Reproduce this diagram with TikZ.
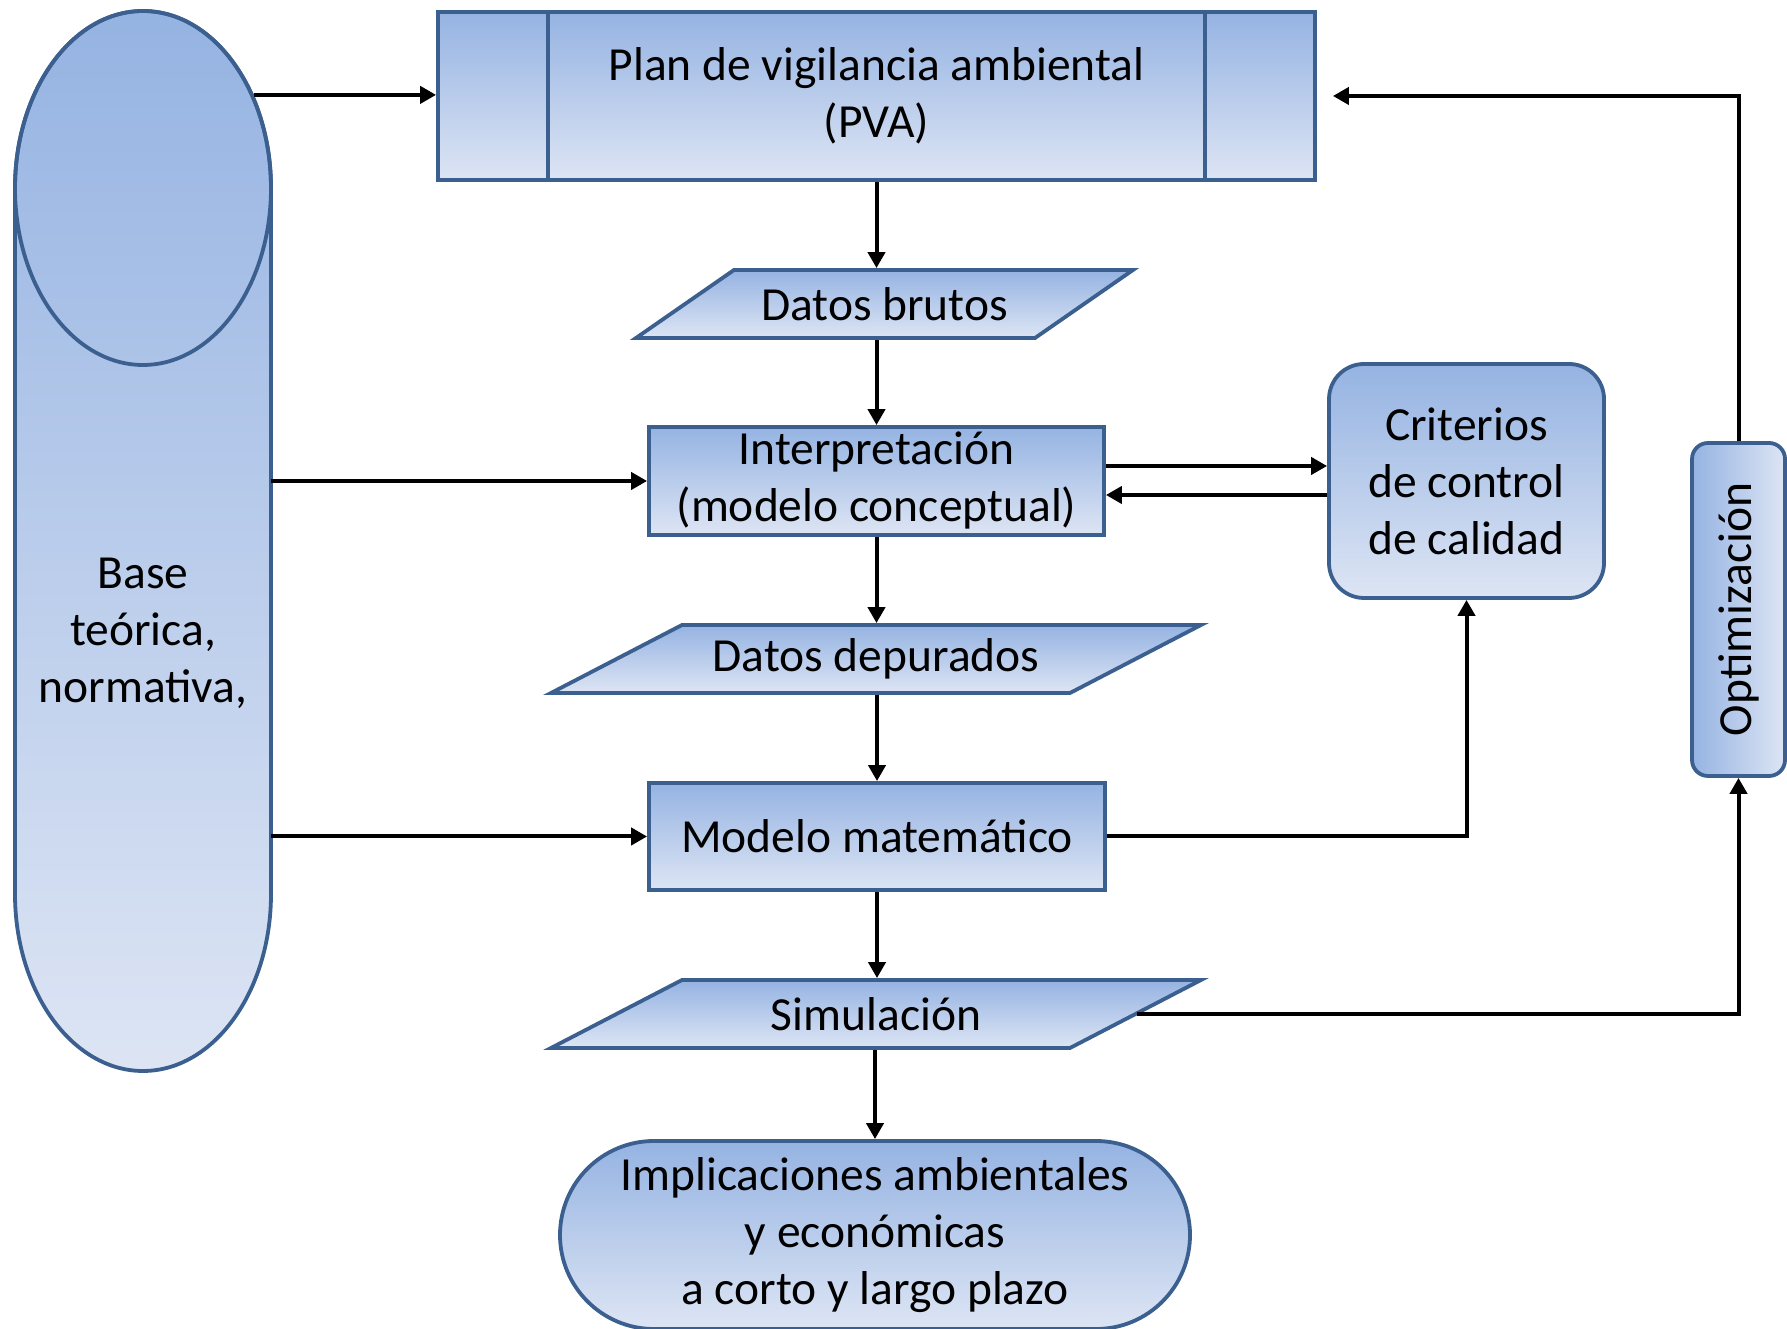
\documentclass[tikz,border=0pt]{standalone}
\usepackage{fontspec}
\setmainfont{Carlito}
\usepackage{graphicx}
\usetikzlibrary{calc,shapes,arrows.meta,backgrounds}

\definecolor{boxline}{RGB}{59,95,143}
\definecolor{boxtop}{RGB}{149,179,226}
\definecolor{boxbot}{RGB}{221,229,244}

\begin{document}
\begin{tikzpicture}[x=1pt,y=1pt,
    font=\fontsize{47.5}{57}\selectfont,
    blue fill/.style={draw=boxline, line width=3.8pt, top color=boxtop, bottom color=boxbot},
    blue box/.style={blue fill, inner sep=0pt, align=center},
    data box/.style={inner sep=0pt, minimum height=68pt, outer sep=1.9pt},
    flow/.style={line width=4pt, -{Triangle[length=16pt,width=17pt]}}]
    \useasboundingbox (0,0) rectangle (1787,1329);

    % base teorica (cilindro)
    \shade [blue fill]
        (15,1141) -- (15,435) arc [start angle=180, end angle=360, x radius=128, y radius=177]
        -- (271,1141) arc [start angle=0, end angle=180, x radius=128, y radius=177] -- cycle;
    \node [ellipse, draw=boxline, line width=3.8pt, minimum width=256pt, minimum height=354pt, inner sep=0pt] (cap) at (143,1141) {};
    \node [align=center, minimum width=256pt, inner sep=0pt] (base) at (143,696) {Base\\teórica,\\normativa,};

    \node [blue box, minimum width=877pt, minimum height=168pt,
        path picture={\draw [boxline, line width=3.8pt]
            ([xshift=110pt]path picture bounding box.north west) -- ([xshift=110pt]path picture bounding box.south west)
            ([xshift=-110pt]path picture bounding box.north east) -- ([xshift=-110pt]path picture bounding box.south east);}]
        (pva) at (876.5,1233) {Plan de vigilancia ambiental\\(PVA)};
    \node [data box, minimum width=399pt] (brutos) at (884.5,1025) {Datos brutos};
    \node [blue box, minimum width=455pt, minimum height=108pt] (interp) at (876.5,848) {Interpretación\\(modelo conceptual)};
    \node [data box, minimum width=519pt] (depurados) at (876,670) {Datos depurados};
    \node [blue box, minimum width=456pt, minimum height=107pt] (modelo) at (877,492.5) {Modelo matemático};
    \node [data box, minimum width=519pt] (simul) at (876,315) {Simulación};
    \node [blue box, rounded corners=94pt, minimum width=630pt, minimum height=188pt] (implic) at (875,94) {Implicaciones ambientales\\y económicas\\a corto y largo plazo};
    \node [blue box, rounded corners=35pt, minimum width=275pt, minimum height=234pt] (crit) at (1466.5,848) {Criterios\\de control\\de calidad};
    \node [blue box, rounded corners=16pt, left color=boxtop, right color=boxbot, minimum width=93pt, minimum height=333pt] (optim) at (1738.5,719.5) {\rotatebox{90}{Optimización}};

    % paralelogramos de datos
    \begin{scope}[on background layer]
        \shade [blue fill] (brutos.center) ++(-248.5,-34) -- ++(399,0) -- ++(98,68) -- ++(-399,0) -- cycle;
        \shade [blue fill] (depurados.center) ++(-325,-34) -- ++(519,0) -- ++(131,68) -- ++(-519,0) -- cycle;
        \shade [blue fill] (simul.center) ++(-325,-34) -- ++(519,0) -- ++(131,68) -- ++(-519,0) -- cycle;
    \end{scope}

    % conexiones
    \draw [flow] (cap.40) -- (cap.40 -| pva.west);
    \draw [flow] (pva.south) -- (pva.south |- brutos.north);
    \draw [flow] (interp.north |- brutos.south) -- (interp.north);
    \draw [flow] (interp.south) -- (interp.south |- depurados.north);
    \draw [flow] (modelo.north |- depurados.south) -- (modelo.north);
    \draw [flow] (modelo.south) -- (modelo.south |- simul.north);
    \draw [flow] (implic.north |- simul.south) -- (implic.north);
    \draw [flow] (interp.west -| base.east) -- (interp.west);
    \draw [flow] (modelo.west -| base.east) -- (modelo.west);
    \draw [flow] ([yshift=15pt]interp.east) -- ([yshift=15pt]interp.east -| crit.west);
    \draw [flow] ([yshift=-14pt]crit.west) -- ([yshift=-14pt]crit.west -| interp.east);
    \draw [flow] (modelo.east) -| (crit.south);
    \draw [flow] (simul.east) -| (optim.south);
    \draw [flow, shorten >=16pt] (optim.north) |- (pva.east);
\end{tikzpicture}
\end{document}
